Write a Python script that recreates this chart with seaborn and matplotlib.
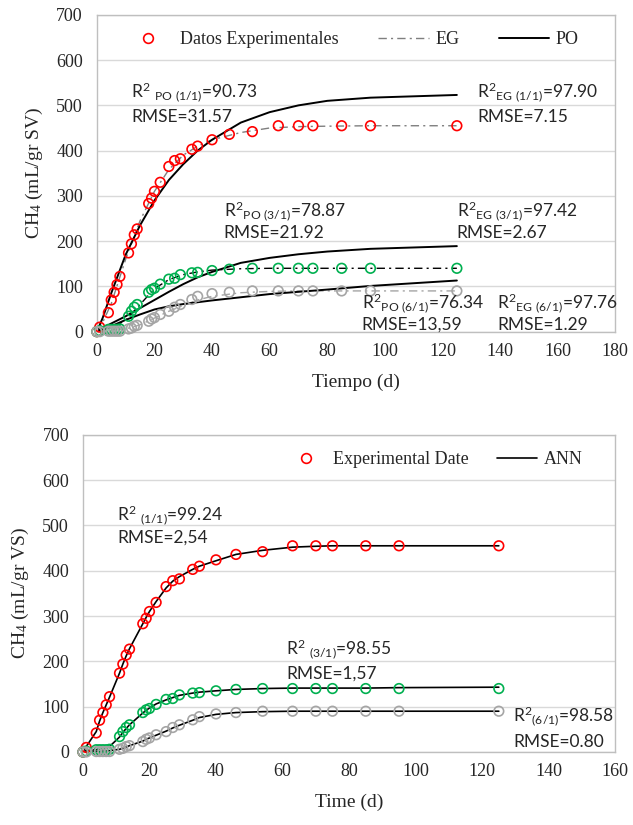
import numpy as np
import pandas as pd
import matplotlib
matplotlib.use('Agg')
import matplotlib.pyplot as plt
import seaborn as sns
from matplotlib.lines import Line2D

# tiempos experimentales (d)
t_exp = [0, 1, 4, 5, 6, 7, 8, 11, 12, 13, 14, 18, 19, 20, 22, 25, 27, 29, 33, 35,
         40, 46, 54, 63, 70, 75, 85, 95, 125]
# CH4 acumulado (mL/gr SV) por relacion
ch4_11 = [0, 10, 42, 70, 87, 104, 122, 174, 194, 214, 227, 283, 295, 310, 330, 365, 378, 382,
          403, 410, 424, 436, 442, 455, 455, 455, 455, 455, 455]
ch4_31 = [0, 2, 5, 5, 5, 5, 6, 34, 45, 54, 60, 87, 93, 96, 105, 116, 118, 126, 130, 131,
          135, 138, 140, 140, 140, 140, 140, 140, 140]
ch4_61 = [0, 0, 1, 1, 1, 1, 1, 6, 8, 12, 14, 23, 28, 31, 38, 45, 54, 60, 71, 78,
          84, 87, 90, 90, 90, 90, 90, 90, 90]

# curvas de los modelos EG y PO
t_mod = [0, 2, 5, 10, 15, 20, 25, 30, 35, 40, 50, 60, 70, 80, 95, 125]
eg_11 = [0, 20, 62, 160, 245, 310, 358, 390, 410, 424, 440, 450, 453, 454, 455, 455]
eg_31 = [0, 3, 8, 25, 60, 95, 115, 126, 132, 136, 139, 140, 140, 140, 140, 140]
eg_61 = [0, 1, 2, 6, 15, 30, 45, 58, 70, 78, 86, 89, 90, 90, 90, 90]
po_11 = [0, 30, 85, 170, 235, 290, 335, 370, 400, 424, 462, 485, 500, 510, 517, 523]
po_31 = [0, 8, 18, 34, 52, 70, 88, 105, 120, 132, 152, 163, 171, 177, 183, 189]
po_61 = [0, 4, 12, 26, 38, 49, 56, 61, 65, 69, 76, 83, 88, 93, 101, 113]

# red neuronal (ANN)
ann_11 = [0, 12, 45, 68, 87, 104, 121, 174, 194, 212, 228, 283, 297, 310, 332, 362, 377, 387,
          403, 410, 422, 436, 445, 452, 454, 455, 455, 455, 455]
ann_31 = [0, 3, 5, 6, 7, 9, 12, 33, 43, 52, 60, 86, 92, 97, 106, 115, 120, 125, 130, 132,
          135, 138, 140, 141, 141, 141, 141, 142, 143]
ann_61 = [0, 0, 1, 1, 2, 2, 3, 6, 8, 11, 14, 24, 28, 31, 37, 46, 53, 59, 70, 76,
          83, 87, 89, 90, 90, 90, 90, 90, 90]

RED, GREEN, GRAY = '#ff0000', '#00b050', '#a5a5a5'
SERIF = 'Liberation Serif'
SANS = 'Lato'

sns.set_style('white')
plt.rcParams['font.family'] = [SERIF, 'DejaVu Sans']

exp = pd.DataFrame({'t': t_exp, 'r11': ch4_11, 'r31': ch4_31, 'r61': ch4_61,
                    'a11': ann_11, 'a31': ann_31, 'a61': ann_61})
mod = pd.DataFrame({'t': t_mod, 'eg11': eg_11, 'eg31': eg_31, 'eg61': eg_61,
                    'po11': po_11, 'po31': po_31, 'po61': po_61})

dashdot = (0, (6, 3, 1.5, 3))


def style_ax(ax, xmax, xlabel, ylabel):
    ax.set_xlim(0, xmax)
    ax.set_ylim(0, 700)
    ax.set_xticks(np.arange(0, xmax + 1, 20))
    ax.set_yticks(np.arange(0, 701, 100))
    ax.yaxis.grid(True, color='#d9d9d9', lw=1)
    ax.set_axisbelow(True)
    for s in ax.spines.values():
        s.set_visible(True)
        s.set_color('#bfbfbf')
        s.set_linewidth(1)
    ax.tick_params(axis='x', direction='in', length=5, color='#bfbfbf', labelsize=13, pad=8)
    ax.tick_params(axis='y', length=0, labelsize=13, pad=10)
    ax.set_xlabel(xlabel, fontsize=14, labelpad=10)
    ax.set_ylabel(ylabel, fontsize=14, labelpad=8)


def points(ax, col, color):
    sns.scatterplot(data=exp, x='t', y=col, ax=ax, marker='o', s=48, facecolor='none',
                    edgecolor=color, linewidth=1.2, clip_on=False, zorder=3)


def note(ax, x, y, l1, l2, dy):
    ax.text(x, y, l1, fontsize=12.5, family=SANS, va='center', ha='left')
    ax.text(x, y - dy, l2, fontsize=12.5, family=SANS, va='center', ha='left')


fig = plt.figure(figsize=(6.33, 8.25), dpi=100)
ax1 = fig.add_axes([0.153, 0.598, 0.819, 0.384])
ax2 = fig.add_axes([0.131, 0.0885, 0.841, 0.3845])

# --- modelos EG y PO ---
for col, color in [('r11', RED), ('r31', GREEN), ('r61', GRAY)]:
    points(ax1, col, color)
sns.lineplot(data=mod, x='t', y='eg11', ax=ax1, color='#7f7f7f', lw=1, linestyle=dashdot)
sns.lineplot(data=mod, x='t', y='eg31', ax=ax1, color='black', lw=1, linestyle=dashdot)
sns.lineplot(data=mod, x='t', y='eg61', ax=ax1, color='#a5a5a5', lw=1, linestyle=dashdot)
for col in ['po11', 'po31', 'po61']:
    sns.lineplot(data=mod, x='t', y=col, ax=ax1, color='black', lw=1.4)
style_ax(ax1, 180, 'Tiempo (d)', r'CH$\mathregular{_4}$ (mL/gr SV)')

h1 = [Line2D([], [], ls='none', marker='o', mfc='none', mec=RED, ms=7, mew=1.2),
      Line2D([], [], color='#7f7f7f', lw=1, ls=dashdot),
      Line2D([], [], color='black', lw=1.4)]
ax1.legend(h1, ['Datos Experimentales', 'EG', 'PO'], ncol=3, frameon=False, fontsize=13,
           loc='upper center', bbox_to_anchor=(0.49, 1.0), handlelength=2.8,
           columnspacing=2.2, handletextpad=0.35)

note(ax1, 12, 528, r'R$\mathregular{^2}$ $\mathregular{_{PO\ (1/1)}}$=90.73', 'RMSE=31.57', 53)
note(ax1, 132, 528, r'R$\mathregular{^2}$$\mathregular{_{EG\ (1/1)}}$=97.90', 'RMSE=7.15', 53)
note(ax1, 44, 266, r'R$\mathregular{^2}$$\mathregular{_{PO\ (3/1)}}$=78.87', 'RMSE=21.92', 48)
note(ax1, 125, 267, r'R$\mathregular{^2}$$\mathregular{_{EG\ (3/1)}}$=97.42', 'RMSE=2.67', 49)
note(ax1, 92, 63, r'R$\mathregular{^2}$$\mathregular{_{PO\ (6/1)}}$=76.34', 'RMSE=13,59', 48)
note(ax1, 139, 63, r'R$\mathregular{^2}$$\mathregular{_{EG\ (6/1)}}$=97.76', 'RMSE=1.29', 48)

# --- ANN ---
for col in ['a11', 'a31', 'a61']:
    sns.lineplot(data=exp, x='t', y=col, ax=ax2, color='black', lw=1.2)
for col, color in [('r11', RED), ('r31', GREEN), ('r61', GRAY)]:
    points(ax2, col, color)
style_ax(ax2, 160, 'Time (d)', r'CH$\mathregular{_4}$ (mL/gr VS)')

h2 = [Line2D([], [], ls='none', marker='o', mfc='none', mec=RED, ms=7, mew=1.2),
      Line2D([], [], color='black', lw=1.2)]
ax2.legend(h2, ['Experimental Date', 'ANN'], ncol=2, frameon=False, fontsize=13,
           loc='upper right', bbox_to_anchor=(0.97, 1.0), handlelength=2.2,
           columnspacing=1.6, handletextpad=0.4)

note(ax2, 10.3, 523, r'R$\mathregular{^2}$ $\mathregular{_{(1/1)}}$=99.24', 'RMSE=2,54', 49)
note(ax2, 61, 227, r'R$\mathregular{^2}$ $\mathregular{_{(3/1)}}$=98.55', 'RMSE=1,57', 55)
note(ax2, 129.4, 78, r'R$\mathregular{^2}$$\mathregular{_{(6/1)}}$=98.58', 'RMSE=0.80', 55)

fig.savefig('out.png', dpi=100)
